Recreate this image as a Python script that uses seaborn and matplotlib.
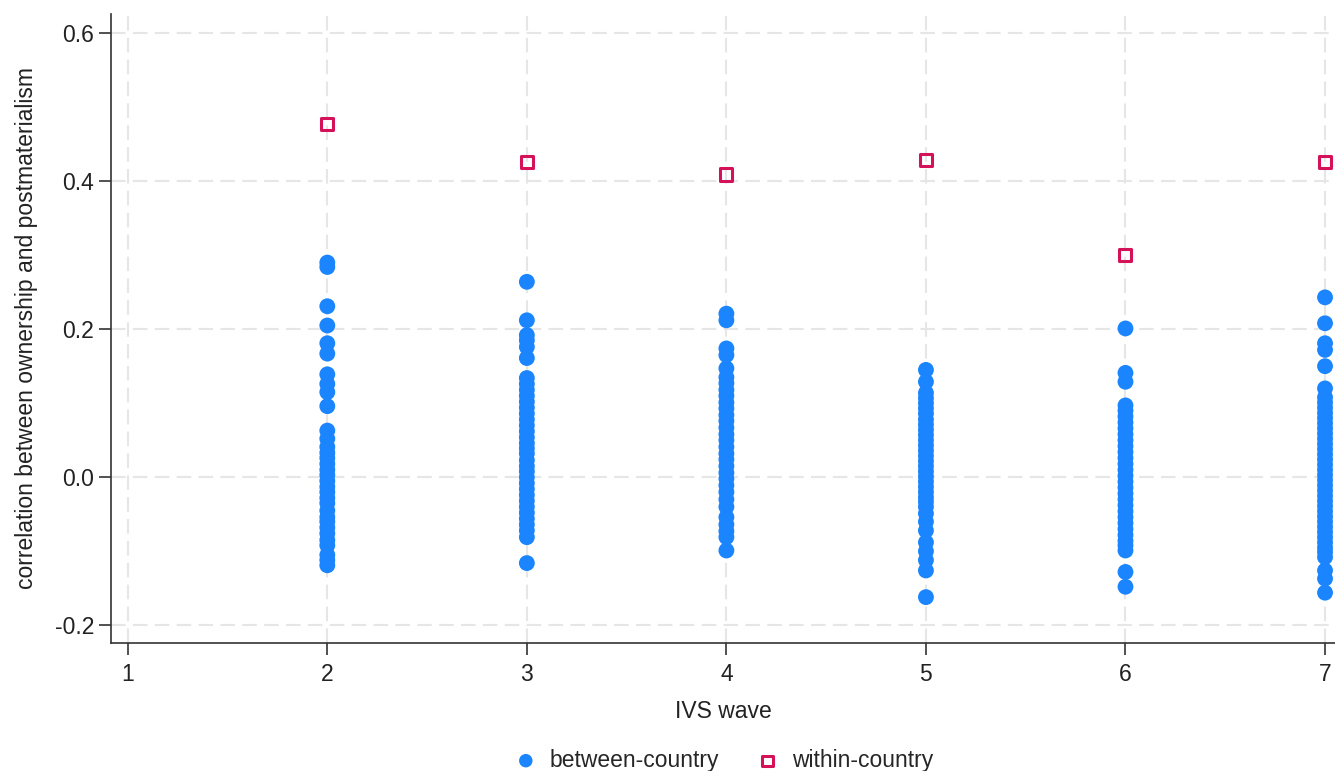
import numpy as np
import pandas as pd
import matplotlib
matplotlib.use("Agg")
import matplotlib.pyplot as plt
import seaborn as sns

# between-country correlations, one value per country, by IVS wave
wave2 = [0.290, 0.284, 0.231, 0.205, 0.181, 0.167, 0.139, 0.126, 0.115, 0.096,
         0.063, 0.052, 0.041, 0.033, 0.026, 0.018, 0.010, 0.003, -0.005, -0.013,
         -0.020, -0.028, -0.035, -0.045, -0.054, -0.060, -0.068, -0.076, -0.085,
         -0.092, -0.105, -0.112, -0.119]
wave3 = [0.264, 0.212, 0.192, 0.185, 0.176, 0.161, 0.134, 0.126, 0.118, 0.110,
         0.102, 0.094, 0.086, 0.078, 0.070, 0.062, 0.054, 0.046, 0.039, 0.032,
         0.023, 0.015, 0.008, 0.000, -0.008, -0.016, -0.024, -0.032, -0.040,
         -0.048, -0.056, -0.064, -0.072, -0.081, -0.116]
wave4 = [0.221, 0.212, 0.174, 0.165, 0.147, 0.135, 0.127, 0.118, 0.110, 0.101,
         0.093, 0.084, 0.076, 0.067, 0.058, 0.050, 0.041, 0.032, 0.024, 0.015,
         0.006, -0.002, -0.011, -0.020, -0.030, -0.040, -0.054, -0.064, -0.073,
         -0.081, -0.099]
wave5 = [0.145, 0.129, 0.114, 0.107, 0.100, 0.093, 0.086, 0.078, 0.071, 0.064,
         0.057, 0.050, 0.043, 0.036, 0.029, 0.022, 0.015, 0.008, 0.001, -0.006,
         -0.013, -0.020, -0.027, -0.033, -0.040, -0.049, -0.060, -0.072, -0.088,
         -0.100, -0.112, -0.126, -0.162]
wave6 = [0.201, 0.141, 0.129, 0.097, 0.090, 0.082, 0.074, 0.066, 0.058, 0.050,
         0.042, 0.034, 0.026, 0.018, 0.010, 0.002, -0.006, -0.014, -0.022, -0.030,
         -0.038, -0.046, -0.054, -0.062, -0.070, -0.078, -0.086, -0.092, -0.099,
         -0.128, -0.148]
wave7 = [0.243, 0.208, 0.181, 0.172, 0.150, 0.120, 0.108, 0.101, 0.094, 0.087,
         0.080, 0.073, 0.066, 0.059, 0.052, 0.045, 0.038, 0.031, 0.024, 0.017,
         0.010, 0.003, -0.004, -0.011, -0.018, -0.025, -0.032, -0.039, -0.046,
         -0.053, -0.060, -0.067, -0.074, -0.081, -0.088, -0.095, -0.101, -0.108,
         -0.126, -0.137, -0.156]

within_waves = [2, 3, 4, 5, 6, 7]
within_vals = [0.477, 0.426, 0.409, 0.428, 0.300, 0.426]

between = pd.concat([
    pd.DataFrame({"wave": w, "corr": v})
    for w, v in zip([2, 3, 4, 5, 6, 7], [wave2, wave3, wave4, wave5, wave6, wave7])
])
within = pd.DataFrame({"wave": within_waves, "corr": within_vals})

sns.set_style("white")
plt.rcParams["font.family"] = ["Liberation Sans", "DejaVu Sans"]

fig = plt.figure(figsize=(13.35, 7.71), dpi=100)
ax = fig.add_axes([0.083, 0.166, 0.917, 0.816])

sns.scatterplot(data=between, x="wave", y="corr", ax=ax, color="#1a85ff",
                marker="o", s=130, edgecolor="none", label="between-country", zorder=3)
sns.scatterplot(data=within, x="wave", y="corr", ax=ax, marker="s", s=75,
                facecolor="none", edgecolor="#d41159", linewidth=2.2,
                label="within-country", zorder=3)

ax.set_xlim(0.915, 7.05)
ax.set_ylim(-0.224, 0.626)
ax.set_xticks([1, 2, 3, 4, 5, 6, 7])
ax.set_yticks([-0.2, 0.0, 0.2, 0.4, 0.6])
ax.set_yticklabels(["-0.2", "0.0", "0.2", "0.4", "0.6"])
ax.grid(True, color="#e6e6e6", linestyle=(0, (7, 3.5)), linewidth=1.5)
ax.set_axisbelow(True)
for side in ["top", "right"]:
    ax.spines[side].set_visible(False)
for side in ["left", "bottom"]:
    ax.spines[side].set_color("#333333")
    ax.spines[side].set_linewidth(1.2)
ax.tick_params(axis="both", direction="out", length=8.5, width=1.2, color="#333333",
               labelsize=16.5, labelcolor="#222222", left=True, bottom=True)
ax.tick_params(axis="x", pad=6)
ax.set_xlabel("IVS wave", fontsize=16.5, color="#222222", labelpad=10)
ax.set_ylabel("correlation between ownership and postmaterialism", fontsize=16.5,
              color="#222222", labelpad=12)

handles, labels = ax.get_legend_handles_labels()
ax.get_legend().remove()
fig.legend(handles, labels, loc="center", bbox_to_anchor=(0.542, 0.014), ncol=2,
           frameon=False, fontsize=16.5, handlelength=1.0, handletextpad=0.55,
           columnspacing=1.6, markerscale=0.85)

fig.savefig("out.png", dpi=100)
